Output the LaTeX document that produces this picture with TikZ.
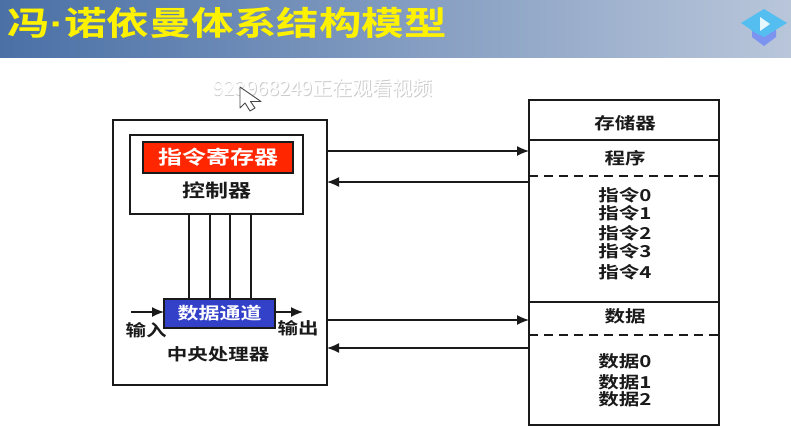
\documentclass[tikz,border=0pt]{standalone}
\usepackage{graphicx}
\usepackage{fontspec}
\setmainfont{Noto Sans CJK SC}[BoldFont={Noto Sans CJK SC Bold}]
\newfontfamily\dotfont{Liberation Sans Bold}
\newcommand{\squash}[1]{\scalebox{1}[0.8]{#1}}
\usetikzlibrary{arrows.meta}
\definecolor{hdrL}{HTML}{4A70A6}
\definecolor{hdrR}{HTML}{B9C6DA}
\definecolor{regred}{HTML}{FF2600}
\definecolor{pathblue}{HTML}{3340C8}
\definecolor{ink}{HTML}{1A1A1A}
\definecolor{iconA}{HTML}{55BEF0}
\definecolor{iconB}{HTML}{7C94F0}
\tikzset{
  px/.style={x=1pt,y=-1pt},
  boxline/.style={draw=ink,line width=1.8pt,fill=white,inner sep=0pt,outer sep=0pt,anchor=north west},
  filled/.style={draw=ink,line width=1.6pt,inner sep=0pt,outer sep=0pt,anchor=north west,text=white},
  lab/.style={text=ink,inner sep=0pt,font=\bfseries\fontsize{20.5}{20.5}\selectfont},
  wire/.style={draw=ink,line width=1.8pt},
  arr/.style={draw=ink,line width=1.4pt,-{Latex[length=12pt,width=10pt]}},
  dashline/.style={draw=ink,line width=1.5pt,dash pattern=on 9pt off 6pt},
}
\begin{document}
\begin{tikzpicture}[px]
\useasboundingbox (0,0) rectangle (791,442);
\fill[white] (0,0) rectangle (791,442);
\shade[left color=hdrL,right color=hdrR] (0,0) rectangle (791,57);
\node[anchor=center,text=yellow,inner sep=0pt,font=\bfseries\fontsize{42.5}{42.5}\selectfont] (title) at (227,23) {\scalebox{1}[0.78]{冯{\dotfont ·}诺依曼体系结构模型}};
% watermark
\node[text=gray!40,inner sep=0pt,font=\fontsize{20}{20}\selectfont] (wms) at (323.7,88.7) {923968249正在观看视频};
\node[text=white,inner sep=0pt,font=\fontsize{20}{20}\selectfont] (wm) at (323,88) {923968249正在观看视频};
% cursor
\draw[fill=white,draw=ink!80,line width=.9pt,line join=round] (240,87) -- (240,108) -- (245,103) -- (250,111) -- (255,108) -- (250.5,101.5) -- (261,101.5) -- cycle;
% icon
\fill[iconB] (752,30) -- (752,37) -- (764,46) -- (776,37) -- (776,30) -- cycle;
\fill[iconA] (741,23) -- (764,9) -- (787,23) -- (764,37) -- (752,31) -- (750,29) -- cycle;
\fill[white!90!cyan] (760,17) -- (760,31) -- (770,24) -- cycle;
% CPU
\node[boxline,minimum width=214pt,minimum height=265pt] (cpu) at (113,120) {};
\node[boxline,minimum width=173pt,minimum height=79pt] (ctrl) at (130,135) {};
\node[filled,fill=regred,minimum width=150pt,minimum height=31pt,font=\bfseries\fontsize{24}{24}\selectfont] (reg) at (143,142) {\squash{指令寄存器}};
\node[lab,font=\bfseries\fontsize{23}{23}\selectfont] (ctrllab) at (217,190) {\squash{控制器}};
\node[filled,fill=pathblue,minimum width=111pt,minimum height=29pt,font=\bfseries\fontsize{21}{21}\selectfont] (path) at (164,299) {\squash{数据通道}};
\node[lab] (inlab) at (146,330) {\squash{输入}};
\node[lab] (outlab) at (298,328) {\squash{输出}};
\node[lab] (cpulab) at (218,354.5) {\squash{中央处理器}};
\foreach \i/\xx in {1/189,2/210,3/230,4/251}{
  \coordinate (ct\i) at (\xx,214);
  \coordinate (pt\i) at (\xx,299);
  \draw[wire] (ct\i) -- (pt\i);
}
\coordinate (instart) at (131,312);
\coordinate (inend) at (164,312);
\coordinate (outstart) at (275,312);
\coordinate (outend) at (303,312);
\draw[arr] (instart) -- (inend);
\draw[arr] (outstart) -- (outend);
% Memory
\node[boxline,minimum width=190pt,minimum height=325pt] (mem) at (529,100) {};
\coordinate (m1l) at (529,140); \coordinate (m1r) at (719,140);
\coordinate (m2l) at (529,176); \coordinate (m2r) at (719,176);
\coordinate (m3l) at (529,302); \coordinate (m3r) at (719,302);
\coordinate (m4l) at (529,335); \coordinate (m4r) at (719,335);
\draw[wire] (m1l) -- (m1r);
\draw[wire] (m3l) -- (m3r);
\draw[dashline] (m2l) -- (m2r);
\draw[dashline] (m4l) -- (m4r);
\node[lab] (memlab) at (625,123) {\squash{存储器}};
\node[lab] (prog) at (625,158) {\squash{程序}};
\node[lab] (i0) at (625,195) {\squash{指令0}};
\node[lab] (i1) at (625,213) {\squash{指令1}};
\node[lab] (i2) at (625,233) {\squash{指令2}};
\node[lab] (i3) at (625,251) {\squash{指令3}};
\node[lab] (i4) at (625,272) {\squash{指令4}};
\node[lab] (data) at (625,316) {\squash{数据}};
\node[lab] (d0) at (625,361) {\squash{数据0}};
\node[lab] (d1) at (625,382) {\squash{数据1}};
\node[lab] (d2) at (625,399) {\squash{数据2}};
% Buses
\coordinate (a1c) at (327,151); \coordinate (a1m) at (529,151);
\coordinate (a2c) at (327,182); \coordinate (a2m) at (529,182);
\coordinate (a3c) at (327,320); \coordinate (a3m) at (529,320);
\coordinate (a4c) at (327,348); \coordinate (a4m) at (529,348);
\draw[arr] (a1c) -- (a1m);
\draw[arr] (a2m) -- (a2c);
\draw[arr] (a3c) -- (a3m);
\draw[arr] (a4m) -- (a4c);
\end{tikzpicture}
\end{document}
